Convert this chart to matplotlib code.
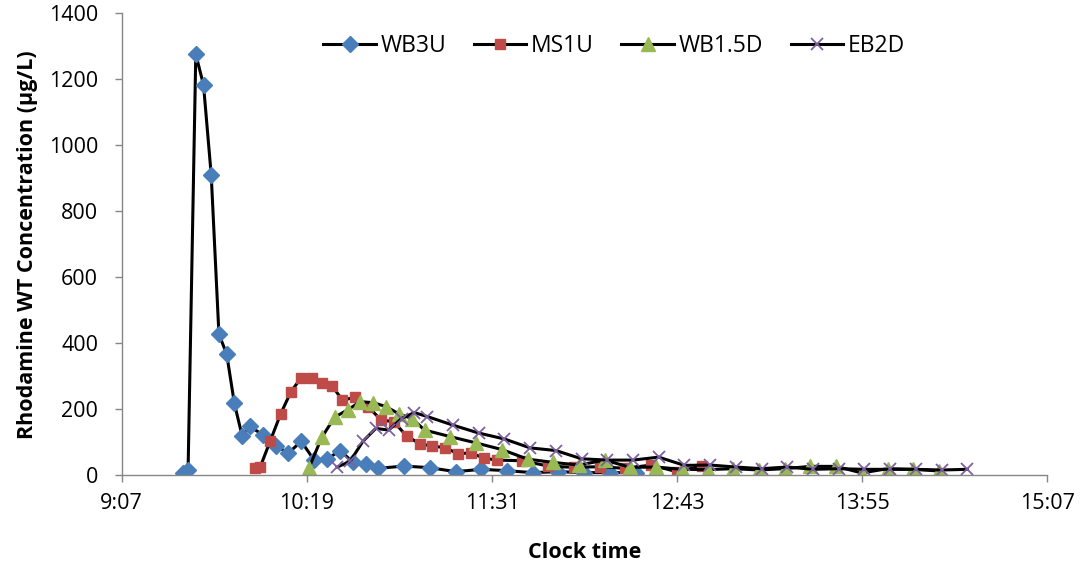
import matplotlib
matplotlib.use("Agg")
import matplotlib.pyplot as plt
from matplotlib.ticker import FixedLocator, FuncFormatter

# ---- data (clock time, concentration µg/L) ----
wb3u_time = ["9:31", "9:33", "9:36", "9:39", "9:42", "9:45", "9:48", "9:51", "9:54", "9:57",
             "10:02", "10:07", "10:12", "10:17", "10:22", "10:27", "10:32", "10:37", "10:42", "10:47",
             "10:57", "11:07", "11:17", "11:27", "11:37", "11:47", "11:57", "12:07", "12:17", "12:27"]
wb3u_val = [7, 15, 1276, 1183, 910, 427, 368, 218, 120, 148,
            123, 90, 67, 103, 46, 48, 75, 41, 34, 21,
            28, 23, 11, 18, 14, 8, 11, 8, 8, 8]

ms1u_time = ["9:59", "10:01", "10:05", "10:09", "10:13", "10:17", "10:21", "10:25", "10:29", "10:33",
             "10:38", "10:43", "10:48", "10:53", "10:58", "11:03", "11:08", "11:13", "11:18", "11:23",
             "11:28", "11:33", "11:43", "11:53", "12:03", "12:13", "12:23", "12:33", "12:43", "12:53"]
ms1u_val = [21, 24, 105, 186, 253, 296, 294, 281, 271, 228,
            236, 208, 168, 162, 119, 96, 88, 84, 65, 68,
            52, 46, 44, 28, 24, 26, 21, 31, 11, 28]

wb15d_time = ["10:20", "10:25", "10:30", "10:35", "10:40", "10:45", "10:50", "10:55", "11:00", "11:05",
              "11:15", "11:25", "11:35", "11:45", "11:55", "12:05", "12:15", "12:25", "12:35", "12:45",
              "12:55", "13:05", "13:15", "13:25", "13:35", "13:45", "13:55", "14:05", "14:15", "14:25"]
wb15d_val = [22, 115, 176, 198, 223, 220, 208, 186, 172, 137,
             117, 98, 78, 49, 39, 31, 46, 24, 25, 18,
             17, 20, 16, 20, 27, 27, 7, 20, 18, 13]

eb2d_time = ["10:31", "10:36", "10:41", "10:46", "10:51", "10:56", "11:01", "11:06", "11:16", "11:26",
             "11:36", "11:46", "11:56", "12:06", "12:16", "12:26", "12:36", "12:46", "12:56", "13:06",
             "13:16", "13:26", "13:36", "13:46", "13:56", "14:06", "14:16", "14:26", "14:36"]
eb2d_val = [25, 42, 103, 142, 137, 172, 190, 178, 152, 128,
            110, 83, 75, 50, 46, 46, 55, 30, 31, 25,
            20, 25, 18, 20, 18, 18, 18, 16, 18]

y_ticks = [0, 200, 400, 600, 800, 1000, 1200, 1400]


def to_min(s):
    h, m = s.split(":")
    return int(h) * 60 + int(m)


plt.rcParams['font.family'] = ['Open Sans', 'DejaVu Sans']

fig = plt.figure(figsize=(10.84, 5.61), dpi=100)
ax = fig.add_axes([0.1123, 0.1528, 0.8540, 0.8235])

series = [
    ("WB3U", wb3u_time, wb3u_val, dict(marker="D", markersize=8.5, markerfacecolor="#4A7EBB",
                                        markeredgecolor="#4A7EBB")),
    ("MS1U", ms1u_time, ms1u_val, dict(marker="s", markersize=6.5, markerfacecolor="#BE4B48",
                                        markeredgecolor="#BE4B48")),
    ("WB1.5D", wb15d_time, wb15d_val, dict(marker="^", markersize=10, markerfacecolor="#98B954",
                                            markeredgecolor="#98B954")),
    ("EB2D", eb2d_time, eb2d_val, dict(marker="x", markersize=8.5, markeredgewidth=1.3,
                                        markeredgecolor="#7D60A0")),
]

for name, t, v, style in series:
    ax.plot([to_min(s) for s in t], v, color="black", linewidth=2.2, label=name, **style)

x0 = 547.2
ax.set_xlim(x0, x0 + 360)
ax.xaxis.set_major_locator(FixedLocator([x0 + 72 * k for k in range(6)]))
ax.xaxis.set_major_formatter(FuncFormatter(lambda v, p: f"{int(v // 60)}:{int(v % 60):02d}"))
ax.set_ylim(0, 1400)
ax.set_yticks(y_ticks)

for s in ["top", "right"]:
    ax.spines[s].set_visible(False)
for s in ["left", "bottom"]:
    ax.spines[s].set_color("#868686")
    ax.spines[s].set_linewidth(1.0)
ax.tick_params(axis="both", colors="#868686", length=5, width=1, labelsize=15.5, labelcolor="black")
ax.tick_params(axis="y", pad=12)
ax.tick_params(axis="x", pad=8)

ax.set_xlabel("Clock time", fontsize=15.5, fontweight="bold", labelpad=20)
ax.set_ylabel("Rhodamine WT Concentration (µg/L)", fontsize=15.5, fontweight="bold", labelpad=8)

ax.legend(loc="center", bbox_to_anchor=(0.532, 0.929), ncol=4, frameon=False, fontsize=16.5,
          handlelength=2.3, handletextpad=0.2, columnspacing=1.2)

fig.savefig("out.png", dpi=100)
